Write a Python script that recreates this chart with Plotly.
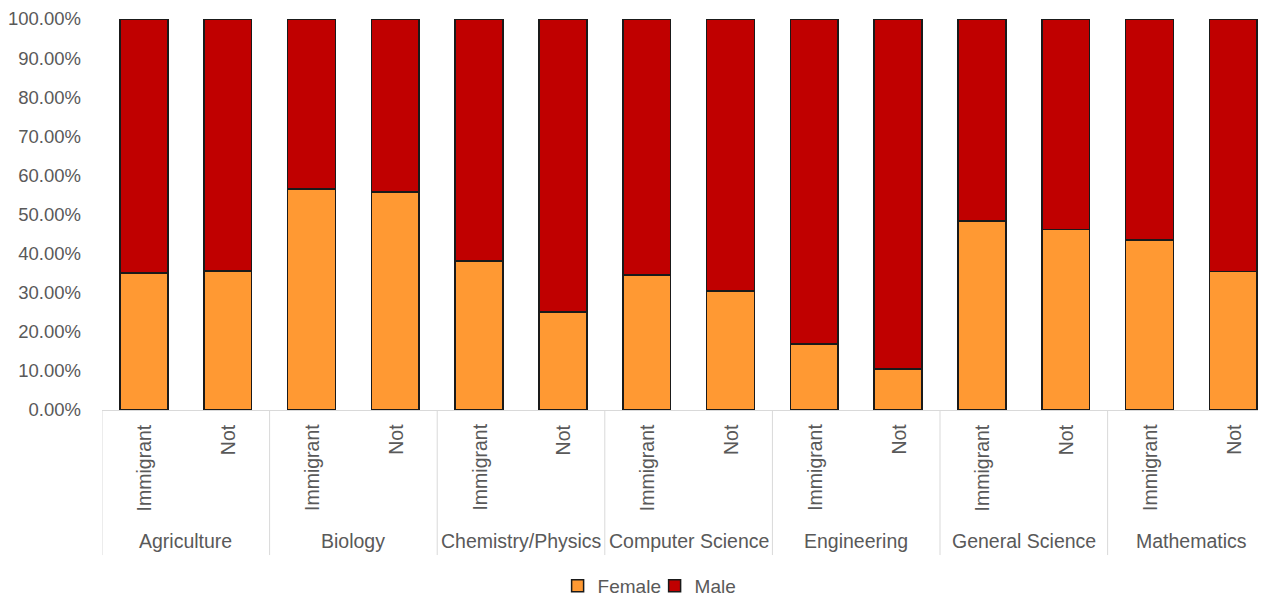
import plotly.graph_objects as go

groups = ["Agriculture", "Biology", "Chemistry/Physics", "Computer Science",
          "Engineering", "General Science", "Mathematics"]
subgroups = ["Immigrant", "Not"]
female = [0.350, 0.355, 0.565, 0.558, 0.381, 0.251, 0.345, 0.304,
          0.169, 0.105, 0.484, 0.462, 0.435, 0.354]
male = [1 - f for f in female]
ytick_vals = [i / 10 for i in range(11)]

FONT = "Liberation Sans"
GRAY = "#595959"
n = len(female)
xpos = list(range(n))

fig = go.Figure()
fig.add_bar(x=xpos, y=female, name="Female", marker=dict(color="#FF9933", line=dict(color="#1a1a1a", width=1.5)))
fig.add_bar(x=xpos, y=male, name="Male", marker=dict(color="#C00000", line=dict(color="#1a1a1a", width=1.5)))

annotations = []
shapes = []
for gi, g in enumerate(groups):
    for si, s in enumerate(subgroups):
        idx = gi * len(subgroups) + si
        annotations.append(dict(x=idx, y=0, xref="x", yref="paper", text=s, showarrow=False,
                                textangle=-90, xanchor="center", yanchor="top", yshift=-12,
                                font=dict(family=FONT, size=19.5, color=GRAY)))
    annotations.append(dict(x=gi * 2 + 0.5, y=0, xref="x", yref="paper", text=g, showarrow=False,
                            xanchor="center", yanchor="middle", yshift=-131,
                            font=dict(family=FONT, size=19.5, color=GRAY)))
for k in range(len(groups) + 1):
    shapes.append(dict(type="line", xref="x", yref="paper", x0=k * 2 - 0.5, x1=k * 2 - 0.5,
                       y0=0, y1=-0.371, line=dict(color="#D9D9D9", width=1)))

fig.update_layout(
    width=1258, height=591,
    margin=dict(l=94, r=0, t=11, b=189),
    barmode="stack", bargap=0.43,
    plot_bgcolor="white", paper_bgcolor="white",
    showlegend=True,
    legend=dict(orientation="h", xref="container", yref="container", x=0.514, y=0.022,
                xanchor="center", yanchor="middle", traceorder="normal",
                entrywidth=52, entrywidthmode="pixels", itemwidth=30,
                font=dict(family=FONT, size=19, color=GRAY)),
    xaxis=dict(range=[-0.5, 13.39], showticklabels=False, showgrid=False, zeroline=False,
               showline=True, linecolor="#D9D9D9", linewidth=1, ticks=""),
    yaxis=dict(range=[0, 1], tickvals=ytick_vals, tickformat=".2%", showgrid=False,
               zeroline=False, showline=False, ticklabelstandoff=20,
               tickfont=dict(family=FONT, size=18.5, color=GRAY)),
    annotations=annotations, shapes=shapes,
)
fig.write_html("out.html")
